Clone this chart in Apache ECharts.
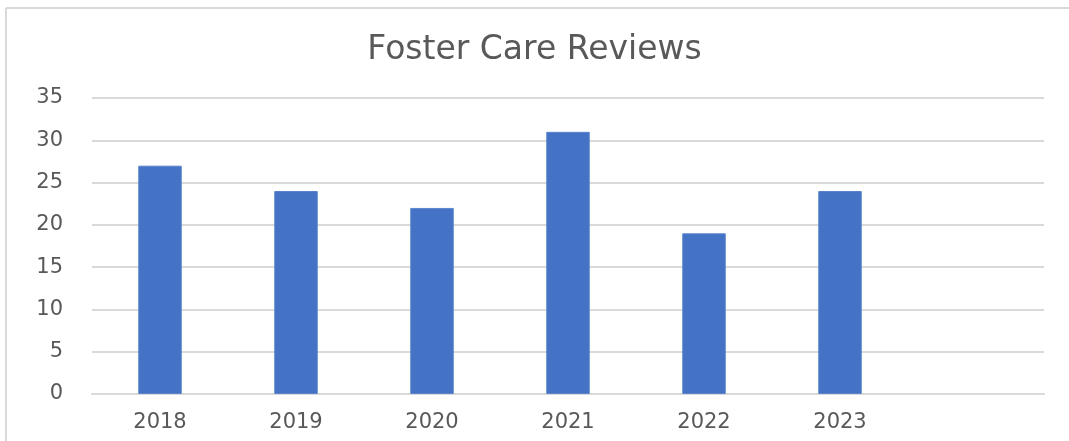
<!DOCTYPE html>
<html>
<head>
<meta charset="utf-8">
<script src="https://cdn.jsdelivr.net/npm/echarts@6/dist/echarts.min.js"></script>
<style>
  html, body { margin: 0; padding: 0; background: #fff; }
  #chart { width: 1069px; height: 441px; }
</style>
</head>
<body>
<div id="chart"></div>
<script>
// years on the x axis, the last slot is empty like in the source sheet
var years = ['2018', '2019', '2020', '2021', '2022', '2023', ''];
var reviews = [27, 24, 22, 31, 19, 24, null];
var yTicks = [0, 5, 10, 15, 20, 25, 30, 35];

var textGray = '#595959';
var lineGray = '#d9d9d9';

var myChart = echarts.init(document.getElementById('chart'));
myChart.setOption({
    backgroundColor: '#fff',
    animation: false,
    title: {
        text: 'Foster Care Reviews',
        left: 'center',
        top: 29,
        textStyle: { fontFamily: 'DejaVu Sans', fontSize: 33, fontWeight: 'normal', color: textGray }
    },
    // only the top and left edges of the chart frame show in the crop
    graphic: [{
        type: 'line',
        shape: { x1: 6, y1: 8, x2: 1069, y2: 8 },
        style: { stroke: lineGray, lineWidth: 2 },
        silent: true
    }, {
        type: 'line',
        shape: { x1: 6, y1: 8, x2: 6, y2: 441 },
        style: { stroke: lineGray, lineWidth: 2 },
        silent: true
    }],
    grid: { left: 92, right: 25, top: 98, bottom: 47 },
    xAxis: {
        type: 'category',
        data: years,
        axisLine: { show: true, lineStyle: { color: lineGray, width: 2 } },
        axisTick: { show: false },
        axisLabel: { color: textGray, fontFamily: 'DejaVu Sans', fontSize: 21, margin: 18 }
    },
    yAxis: {
        type: 'value',
        min: yTicks[0],
        max: yTicks[yTicks.length - 1],
        interval: 5,
        axisLine: { show: false },
        axisTick: { show: false },
        splitLine: { lineStyle: { color: lineGray, width: 2 } },
        axisLabel: { color: textGray, fontFamily: 'DejaVu Sans', fontSize: 21, margin: 29 }
    },
    series: [{
        type: 'bar',
        data: reviews,
        barWidth: '32%',
        itemStyle: { color: '#4472c4', borderColor: '#5b84cc', borderWidth: 1 }
    }]
});
window.addEventListener('resize', function () {
    myChart.resize();
});
</script>
</body>
</html>
